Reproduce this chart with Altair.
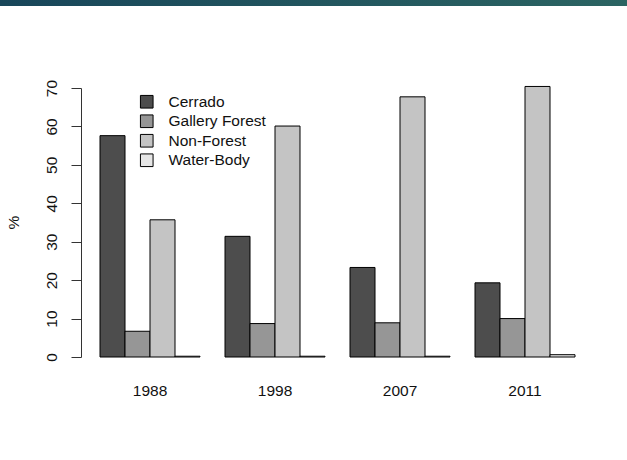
import altair as alt
import pandas as pd

# Land-cover share (%) by year
years = ["1988", "1998", "2007", "2011"]
classes = ["Cerrado", "Gallery Forest", "Non-Forest", "Water-Body"]
cerrado = [57.6, 31.4, 23.3, 19.3]
gallery_forest = [6.7, 8.7, 8.9, 10.0]
non_forest = [35.7, 60.1, 67.7, 70.4]
water_body = [0.2, 0.2, 0.2, 0.6]
fills = ["#4D4D4D", "#969696", "#C4C4C4", "#E6E6E6"]

series = [cerrado, gallery_forest, non_forest, water_body]
rows = []
for cls, vals in zip(classes, series):
    for yr, v in zip(years, vals):
        rows.append({"year": yr, "class": cls, "pct": v})
df = pd.DataFrame(rows)

FONT = "Liberation Sans"
W, H = 513, 269
LEFT, TOP = 81, 88

bars = alt.Chart(df).mark_bar(stroke="black", strokeWidth=1).encode(
    x=alt.X(
        "year:N",
        sort=years,
        scale=alt.Scale(paddingInner=0.2, paddingOuter=0.152),
        axis=alt.Axis(
            title=None, labelAngle=0, domain=False, ticks=False,
            labelFont=FONT, labelFontSize=15.5, labelColor="#111",
            labelPadding=26,
        ),
    ),
    xOffset=alt.XOffset(
        "class:N", sort=classes,
        scale=alt.Scale(paddingInner=0, paddingOuter=0),
    ),
    y=alt.Y(
        "pct:Q",
        scale=alt.Scale(domain=[0, 70], nice=False, zero=True),
        axis=alt.Axis(
            title="%", values=[0, 10, 20, 30, 40, 50, 60, 70],
            grid=False, domainColor="#333", tickColor="#333",
            tickSize=10, labelAngle=270, labelAlign="center",
            labelBaseline="alphabetic", labelPadding=15,
            labelFont=FONT, labelFontSize=15.5, labelColor="#111",
            titleFont=FONT, titleFontSize=15.5, titleFontWeight="normal",
            titleColor="#111", titleAngle=270, titleAlign="center",
            titleBaseline="middle", titleX=-68, titleY=134,
        ),
    ),
    color=alt.Color(
        "class:N", sort=classes,
        scale=alt.Scale(domain=classes, range=fills),
        legend=alt.Legend(
            title=None, orient="none", legendX=58, legendY=6,
            symbolType="square", symbolSize=160,
            symbolStrokeColor="black", symbolStrokeWidth=1,
            labelFont=FONT, labelFontSize=15.5, labelColor="#111",
            labelOffset=14, rowPadding=1.5, padding=0,
        ),
    ),
)

# Gradient banner along the top edge of the page
banner = alt.Chart(pd.DataFrame({"k": [0]})).mark_rect(
    color=alt.Gradient(
        gradient="linear",
        stops=[
            alt.GradientStop(color="#18465a", offset=0),
            alt.GradientStop(color="#2b6462", offset=1),
        ],
        x1=0, x2=1, y1=0, y2=0,
    )
).encode(
    x=alt.value(-LEFT), x2=alt.value(627 - LEFT),
    y=alt.value(-TOP), y2=alt.value(-TOP + 6),
)

chart = alt.layer(banner, bars).properties(
    width=W, height=H,
    autosize=alt.AutoSizeParams(type="none"),
    padding={"left": LEFT, "top": TOP, "right": 627 - LEFT - W, "bottom": 460 - TOP - H},
    background="white",
).configure_view(stroke=None)

chart.save("out.html", embed_options={"renderer": "svg", "actions": False})
